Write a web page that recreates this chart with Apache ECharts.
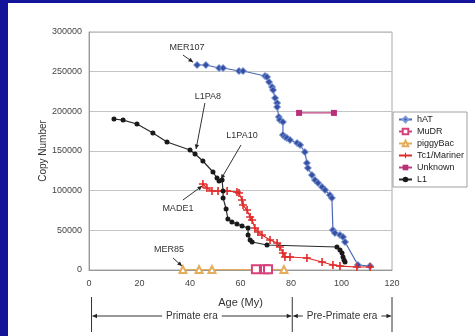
<!DOCTYPE html>
<html>
<head>
<meta charset="utf-8">
<script src="https://cdn.jsdelivr.net/npm/echarts@6/dist/echarts.min.js"></script>
<style>
html, body { margin: 0; padding: 0; }
#frame { position: relative; width: 475px; height: 336px; background: #14149a; overflow: hidden; }
#chart { position: absolute; left: 8px; top: 3px; width: 467px; height: 333px; background: #fff; }
</style>
</head>
<body>
<div id="frame"><div id="chart"></div></div>
<script>
// [age (My), copy number] per family
var hAT = [[42.8,258400],[46.3,258400],[51.5,254600],[53.1,254600],[59.4,250800],[61.0,250800],
  [69.7,244500],[70.5,243300],[71.3,237000],[72.5,230700],[72.9,226900],[73.7,216800],[74.5,210500],
  [74.5,205500],[75.2,192900],[75.6,189100],[76.8,186600],[76.8,170200],[77.6,167700],[78.4,166400],
  [79.6,163900],[82.4,160100],[83.6,157600],[85.5,148700],[86.3,134900],[86.7,128600],[88.3,119700],
  [89.5,113400],[90.7,109700],[92.3,104600],[93.5,100800],[95.4,94500],[96.2,90800],[96.6,50400],
  [97.4,46600],[99.4,44100],[100.6,41600],[101.4,35300],[106.5,6300],[111.3,5000]];
var MuDR = [[66.1,1000],[69.7,1000],[70.9,1000]];
var piggyBac = [[37.2,500],[43.6,500],[48.7,500],[77.2,500]];
var Tc1Mariner = [[45.1,108400],[46.7,103400],[48.7,99600],[51.1,99600],[54.7,99600],[58.6,98300],
  [59.4,97100],[60.6,88200],[61.0,81900],[62.6,75600],[63.8,66800],[64.6,63000],[65.7,52900],
  [66.9,47900],[68.5,44100],[71.7,37800],[74.5,34000],[75.6,29000],[76.8,21400],[77.6,16400],
  [79.6,16400],[86.3,15100],[92.3,10100],[96.6,6300],[99.4,5000],[106.1,3800],[111.3,3800]];
var Unknown = [[83.2,198000],[97.0,198000]];
var L1 = [[9.9,190300],[13.5,189000],[19.0,184000],[25.3,172700],[30.9,161300],[40.0,151200],
  [42.0,146200],[45.1,137400],[49.1,123500],[50.7,116000],[51.5,112200],[52.7,113400],[53.1,99600],
  [53.1,90800],[54.3,76900],[55.0,64300],[56.6,60500],[58.6,58000],[60.6,55500],[63.0,52900],
  [63.0,44100],[63.8,37800],[64.6,35300],[70.5,31500],[98.2,29000],[99.4,25200],[100.2,21400],
  [100.6,16400],[101.0,12600],[101.4,10100]];

var seriesNames = ['hAT', 'MuDR', 'piggyBac', 'Tc1/Mariner', 'Unknown', 'L1'];
var xTicks = [0, 120, 20];
var yTicks = [0, 300000, 50000];

// callouts: label, text position, pointer start, pointer end (data coords)
var callouts = [
  { label: 'MER107', text: [38.8, 280000], from: [37.2, 271000], to: [41.2, 262000] },
  { label: 'L1PA8', text: [47.1, 219000], from: [45.9, 210500], to: [42.4, 152500] },
  { label: 'L1PA10', text: [60.6, 170000], from: [60.2, 157600], to: [52.3, 114700] },
  { label: 'MADE1', text: [35.2, 76900], from: [37.2, 88200], to: [44.8, 105900] },
  { label: 'MER85', text: [31.7, 25200], from: [33.3, 15100], to: [36.8, 5000] }
];
var eraBounds = [1, 80.5, 120];
var eraNames = ['Primate era', 'Pre-Primate era'];

var FONT = '"Liberation Sans", Arial, sans-serif';
var plus = 'path://M4,0h2v4h4v2h-4v4h-2v-4h-4v-2h4z';

var chart = echarts.init(document.getElementById('chart'));
var options = {
    animation: false,
    textStyle: { fontFamily: FONT },
    grid: { left: 81, right: 83, top: 29, bottom: 66, show: true, borderColor: '#a8a8a8', borderWidth: 1 },
    legend: {
        orient: 'vertical',
        left: 385, top: 109,
        itemWidth: 13, itemHeight: 7, itemGap: 3,
        padding: [3, 3, 3, 5],
        borderColor: '#a0a0a0', borderWidth: 1,
        textStyle: { fontSize: 9, color: '#222', fontFamily: FONT },
        data: seriesNames
    },
    xAxis: {
        type: 'value', min: xTicks[0], max: xTicks[1], interval: xTicks[2],
        name: 'Age (My)', nameLocation: 'middle', nameGap: 27, nameMoveOverlap: false,
        nameTextStyle: { fontSize: 11, color: '#333' },
        axisLine: { lineStyle: { color: '#999' } },
        axisTick: { show: false },
        axisLabel: { fontSize: 9, color: '#444', margin: 9 },
        splitLine: { show: false }
    },
    yAxis: {
        type: 'value', min: yTicks[0], max: yTicks[1], interval: yTicks[2],
        name: 'Copy Number', nameLocation: 'middle', nameGap: 41, nameMoveOverlap: false,
        nameTextStyle: { fontSize: 10, color: '#333' },
        axisLine: { show: true, lineStyle: { color: '#999' } },
        axisTick: { show: false },
        axisLabel: { fontSize: 9, color: '#444', margin: 7, formatter: function (v) { return String(v); } },
        splitLine: { lineStyle: { color: '#c4c4c4' } }
    },
    series: [
        { name: 'hAT', type: 'line', data: hAT, symbol: 'diamond', symbolSize: 7,
          itemStyle: { color: '#3650a4', borderColor: '#7f9ad8', borderWidth: 1 },
          lineStyle: { color: '#4a68b8', width: 1.2 } },
        { name: 'MuDR', type: 'line', data: MuDR, symbol: 'emptyRect', symbolSize: 8,
          itemStyle: { color: '#d8407c', borderWidth: 1.5 }, lineStyle: { color: '#d8407c', width: 1.2 } },
        { name: 'piggyBac', type: 'line', data: piggyBac, symbol: 'emptyTriangle', symbolSize: 7,
          itemStyle: { color: '#e3ad5c', borderWidth: 1.2 }, lineStyle: { color: '#e3ad5c', width: 1.2 } },
        { name: 'Tc1/Mariner', type: 'line', data: Tc1Mariner, symbol: plus, symbolSize: 8,
          itemStyle: { color: '#e02a2a' }, lineStyle: { color: '#e02a2a', width: 1.2 } },
        { name: 'Unknown', type: 'line', data: Unknown, symbol: 'rect', symbolSize: 6,
          itemStyle: { color: '#b8307c' }, lineStyle: { color: '#c0407e', width: 1.2 } },
        { name: 'L1', type: 'line', data: L1, symbol: 'circle', symbolSize: 5,
          itemStyle: { color: '#1a1a1a' }, lineStyle: { color: '#2a2a2a', width: 1.2 } }
    ]
};
chart.setOption(options);

function arrowHead(s, e, size) {
    var a = Math.atan2(e[1] - s[1], e[0] - s[0]);
    var w = 0.45;
    return {
        type: 'polygon', silent: true,
        shape: { points: [e,
            [e[0] - size * Math.cos(a - w), e[1] - size * Math.sin(a - w)],
            [e[0] - size * Math.cos(a + w), e[1] - size * Math.sin(a + w)]] },
        style: { fill: '#222' }
    };
}

function buildGraphics() {
    var g = [];
    var toPx = function (p) { return chart.convertToPixel({ gridIndex: 0 }, p); };
    callouts.forEach(function (c) {
        var t = toPx(c.text), s = toPx(c.from), e = toPx(c.to);
        g.push({ type: 'text', x: t[0], y: t[1], silent: true,
            style: { text: c.label, fontSize: 9, fontFamily: FONT, fill: '#333', align: 'center', verticalAlign: 'middle' } });
        g.push({ type: 'line', silent: true, shape: { x1: s[0], y1: s[1], x2: e[0], y2: e[1] },
            style: { stroke: '#333', lineWidth: 1 } });
        g.push(arrowHead(s, e, 5));
    });
    // era brackets under the x axis
    var yTop = 294, yBot = 329, yMid = 313;
    var xs = eraBounds.map(function (b) { return toPx([b, 0])[0]; });
    xs.forEach(function (x) {
        g.push({ type: 'line', silent: true, shape: { x1: x, y1: yTop, x2: x, y2: yBot },
            style: { stroke: '#333', lineWidth: 1 } });
    });
    for (var i = 0; i < eraNames.length; i++) {
        var x1 = xs[i] + 1, x2 = xs[i + 1] - 1;
        g.push({ type: 'line', silent: true, shape: { x1: x1, y1: yMid, x2: x2, y2: yMid },
            style: { stroke: '#333', lineWidth: 1 } });
        g.push(arrowHead([x1 + 10, yMid], [x1, yMid], 5));
        g.push(arrowHead([x2 - 10, yMid], [x2, yMid], 5));
        g.push({ type: 'text', x: (x1 + x2) / 2, y: yMid, silent: true,
            style: { text: eraNames[i], fontSize: 10, fontFamily: FONT, fill: '#333', align: 'center',
                verticalAlign: 'middle', backgroundColor: '#fff', padding: [0, 4] } });
    }
    return g;
}
chart.setOption({ graphic: buildGraphics() });
</script>
</body>
</html>
